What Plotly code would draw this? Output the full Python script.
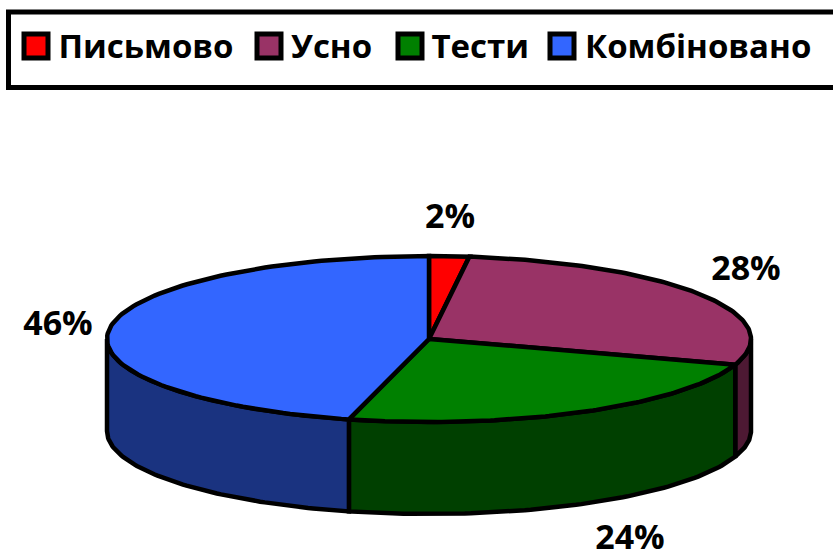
import numpy as np
import plotly.graph_objects as go

categories = ["Письмово", "Усно", "Тести", "Комбіновано"]
values = [2, 28, 24, 46]
top_colors = ["#FF0000", "#993366", "#008000", "#3366FF"]
side_colors = ["#800000", "#4D1933", "#004000", "#1A3380"]

CX, CY, RX, RY, DEPTH = 429, 339, 322, 83, 92
FONT = "Open Sans"
LW = 4.5

# key layout (pixels)
key_swatch_x = [36, 269, 410, 562]
key_text_x = [58.5, 291, 431.5, 585]
key_swatch_y = 46
key_text_y = 50
label_x = [450, 746, 630, 58]
label_y = [219, 271, 540, 326]


def pt(theta, dy=0.0):
    return CX + RX * np.sin(theta), CY - RY * np.cos(theta) + dy


fractions = np.array(values, dtype=float) / sum(values)
edges = np.concatenate([[0], np.cumsum(fractions)]) * 2 * np.pi

fig = go.Figure()

# side walls (only the front half, theta between pi/2 and 3pi/2, is visible)
for i in range(len(values)):
    a = max(edges[i], np.pi / 2)
    b = min(edges[i + 1], 3 * np.pi / 2)
    if b <= a:
        continue
    t = np.linspace(a, b, 80)
    xt, yt = pt(t)
    xb, yb = pt(t[::-1], DEPTH)
    fig.add_trace(go.Scatter(
        x=np.r_[xt, xb, xt[0]], y=np.r_[yt, yb, yt[0]], mode="lines", fill="toself",
        fillcolor=side_colors[i], line=dict(color="black", width=LW),
        showlegend=False, hoverinfo="skip"))

# top slices
for i in range(len(values)):
    t = np.linspace(edges[i], edges[i + 1], 120)
    x, y = pt(t)
    fig.add_trace(go.Scatter(
        x=np.r_[CX, x, CX], y=np.r_[CY, y, CY], mode="lines", fill="toself",
        fillcolor=top_colors[i], line=dict(color="black", width=LW),
        name=categories[i], hoverinfo="name", showlegend=False))

# percentage labels
fig.add_trace(go.Scatter(
    x=label_x, y=label_y, mode="text", text=[f"{v}%" for v in values],
    textposition="middle center", cliponaxis=False, showlegend=False, hoverinfo="skip",
    textfont=dict(family=FONT, size=34, color="black", weight="bold")))

# key frame (its right side runs off the canvas), swatches and names
fig.add_shape(type="rect", x0=8.5, x1=845, y0=12, y1=87.5,
              line=dict(color="black", width=5), fillcolor="white", layer="below")
fig.add_trace(go.Scatter(
    x=key_swatch_x, y=[key_swatch_y] * 4, mode="markers", showlegend=False, hoverinfo="skip",
    marker=dict(symbol="square", size=24, color=top_colors,
                line=dict(color="black", width=5))))
fig.add_trace(go.Scatter(
    x=key_text_x, y=[key_text_y] * 4, mode="text", text=categories,
    textposition="middle right", cliponaxis=False, showlegend=False, hoverinfo="skip",
    textfont=dict(family=FONT, size=33, color="black", weight="bold")))

fig.update_layout(
    width=833, height=555, margin=dict(l=0, r=0, t=0, b=0),
    paper_bgcolor="white", plot_bgcolor="white",
    xaxis=dict(range=[0, 833], visible=False, fixedrange=True),
    yaxis=dict(range=[555, 0], visible=False, fixedrange=True),
    font=dict(family=FONT, color="black"),
    showlegend=False,
)
fig.write_html("out.html", config={"displayModeBar": False},
               post_script="document.body.style.margin='0';")
